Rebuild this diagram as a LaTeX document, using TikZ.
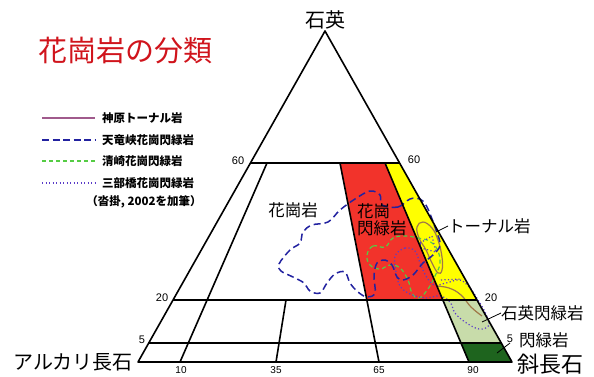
\documentclass[tikz,border=0pt]{standalone}
\usepackage{fontspec}
\newfontfamily\jp{Noto Sans CJK JP}
\newfontfamily\num{Liberation Sans}
\definecolor{granred}{HTML}{F2332B}
\definecolor{tonyellow}{HTML}{FFFF00}
\definecolor{qdgreen}{HTML}{C8DCAA}
\definecolor{dgreen}{HTML}{1E641E}
\definecolor{titlered}{HTML}{D0141C}
\definecolor{kamihara}{HTML}{A05A8C}
\definecolor{tenryu}{HTML}{2222A0}
\definecolor{kiyosaki}{HTML}{55CC44}
\definecolor{sanbu}{HTML}{5A3CC8}
\definecolor{tonline}{HTML}{A07848}
\tikzset{
  frame/.style={line width=1.6pt, black, line join=round},
  lead/.style={line width=0.8pt, black},
  rock/.style={font=\jp\fontsize{16.5}{17}\selectfont, inner sep=0pt},
  corner/.style={font=\jp\fontsize{20}{22}\selectfont, inner sep=0pt},
  tick/.style={font=\num\fontsize{11}{12}\selectfont, inner sep=0pt},
  legtext/.style={font=\jp\bfseries\fontsize{11.5}{12}\selectfont, inner sep=0pt, anchor=west},
  tenryuline/.style={tenryu, line width=1.5pt, dash pattern=on 7pt off 4pt},
  kiyoline/.style={kiyosaki, line width=1.2pt, dash pattern=on 4pt off 3pt},
  sanbuline/.style={sanbu, line width=1.2pt, dash pattern=on 1.2pt off 2.3pt},
  kamiline/.style={tonline, line width=1.2pt}
}
\begin{document}
\begin{tikzpicture}[x=1pt,y=-1pt]
\useasboundingbox (0,0) rectangle (594,376);
% corners
\coordinate (Q) at (325,31);
\coordinate (A) at (138,362);
\coordinate (P) at (512,362);
\coordinate (L60) at (250.5,163);
\coordinate (R60) at (399.5,163);
\coordinate (L20) at (173,300);
\coordinate (R20) at (477,300);
\coordinate (L5) at (148.7,343);
\coordinate (R5) at (501.3,343);
\coordinate (T10) at (267,163);
\coordinate (B10) at (180,362);
\coordinate (T35) at (286,300);
\coordinate (B35) at (276,362);
\coordinate (T65) at (340,163);
\coordinate (M65) at (367,300);
\coordinate (B65) at (379,362);
\coordinate (T90) at (385,163);
\coordinate (M90) at (443,300);
\coordinate (F90) at (461,343);
\coordinate (B90) at (469,362);
% fields
\fill[granred] (T65) -- (T90) -- (M90) -- (M65) -- cycle;
\fill[tonyellow] (T90) -- (R60) -- (R20) -- (M90) -- cycle;
\fill[qdgreen] (M90) -- (R20) -- (R5) -- (F90) -- cycle;
\fill[dgreen] (F90) -- (R5) -- (P) -- (B90) -- cycle;
% rock-body outlines
\draw[kamiline] plot[smooth cycle, tension=0.7] coordinates {(417,227) (423,222) (432,228) (438,240) (442,257) (442,270) (438,273) (432,263) (426,250) (419,238)};
\draw[kamiline] plot[smooth, tension=0.7] coordinates {(436,286) (449,288) (461,295) (471,307) (482,316)};
\draw[kiyoline] plot[smooth cycle, tension=0.7] coordinates {(367,255) (373,246) (385,247) (393,238) (405,236) (418,238) (429,241) (437,249) (440,263) (435,276) (428,289) (419,298) (412,293) (408,280) (400,268) (390,265) (380,269) (370,265)};
\draw[sanbuline] plot[smooth cycle, tension=0.6] coordinates {(395,256) (405,248) (415,251) (420,263) (426,276) (434,285) (446,283) (460,280) (470,288) (478,300) (485,312) (489,325) (479,329) (465,322) (455,313) (450,302) (440,296) (425,298) (410,294) (400,286) (396,272)};
\draw[sanbuline] (420,243) -- (432,236) -- (436,252) -- (421,248) -- cycle;
\draw[sanbuline] (441,280) -- (462,279);
\draw[tenryuline] plot[smooth cycle, tension=0.6] coordinates {(382,205) (398,207) (410,199) (420,199) (427,207) (436,230) (440,245) (433,255) (423,263) (413,275) (403,280) (397,277) (392,265) (385,260) (377,263) (374,276) (375,293) (367,297) (358,292) (350,283) (345,272) (335,274) (327,283) (320,293) (310,291) (304,283) (293,277) (281,271) (279,264) (290,250) (300,243) (303,232) (312,225) (328,222) (340,210) (355,199) (370,191) (380,195)};
% frame
\draw[frame] (A) -- (Q) -- (P) -- cycle;
\draw[frame] (L60) -- (R60);
\draw[frame] (L20) -- (R20);
\draw[frame] (L5) -- (R5);
\draw[frame] (T10) -- (B10);
\draw[frame] (T35) -- (B35);
\draw[frame] (T65) -- (B65);
\draw[frame] (T90) -- (B90);
% tick labels
\node[tick] (l60) at (238,161) {60};
\node[tick] (r60) at (414,160) {60};
\node[tick] (l20) at (162,298) {20};
\node[tick] (r20) at (491,298) {20};
\node[tick] (l5) at (142,340) {5};
\node[tick] (r5) at (510,339) {5};
\node[tick, anchor=north, font=\num\fontsize{10}{11}\selectfont] (b10) at (181,366) {10};
\node[tick, anchor=north, font=\num\fontsize{10}{11}\selectfont] (b35) at (276,366) {35};
\node[tick, anchor=north, font=\num\fontsize{10}{11}\selectfont] (b65) at (379,366) {65};
\node[tick, anchor=north, font=\num\fontsize{10}{11}\selectfont] (b90) at (473,366) {90};
% corner labels
\node[corner] (qz) at (325,20) {石英};
\node[corner, anchor=east] (afs) at (133,362) {アルカリ長石};
\node[corner, font=\jp\fontsize{22}{24}\selectfont] (pl) at (550,364) {斜長石};
% rock labels
\node[rock] (gr) at (293,210) {花崗岩};
\node[rock, anchor=north west, align=left] (gd) at (357,203) {花崗\\閃緑岩};
\node[rock, anchor=west] (tn) at (448,226) {トーナル岩};
\node[rock, anchor=west] (qd) at (501,313) {石英閃緑岩};
\node[rock, anchor=west] (di) at (519,340) {閃緑岩};
\coordinate (tnp) at (436,232);
\coordinate (qdp) at (482,322);
\coordinate (dip) at (497,353);
\draw[lead] (tn.west) -- (tnp);
\draw[lead] (qd.west) -- (qdp);
\draw[lead] (r5.south) -- (dip);
% title
\node[font=\jp\fontsize{29}{30}\selectfont, text=titlered, inner sep=0pt] (title) at (125,51) {花崗岩の分類};
% legend
\coordinate (k1) at (42,118); \coordinate (k2) at (95,118);
\coordinate (t1) at (42,140); \coordinate (t2) at (95,140);
\coordinate (s1) at (42,161); \coordinate (s2) at (95,161);
\coordinate (m1) at (42,183); \coordinate (m2) at (95,183);
\draw[kamihara, line width=1.2pt] (k1) -- (k2);
\draw[tenryu, line width=1.4pt, dash pattern=on 7pt off 3.5pt] (t1) -- (t2);
\draw[kiyoline] (s1) -- (s2);
\draw[sanbuline] (m1) -- (m2);
\node[legtext] (lk) at (102,118) {神原トーナル岩};
\node[legtext] (lt) at (102,140) {天竜峡花崗閃緑岩};
\node[legtext] (ls) at (102,161) {清崎花崗閃緑岩};
\node[legtext] (lm) at (102,183) {三部橋花崗閃緑岩};
\node[legtext, anchor=center] (src) at (144,202) {（沓掛, 2002を加筆）};
\end{tikzpicture}
\end{document}
